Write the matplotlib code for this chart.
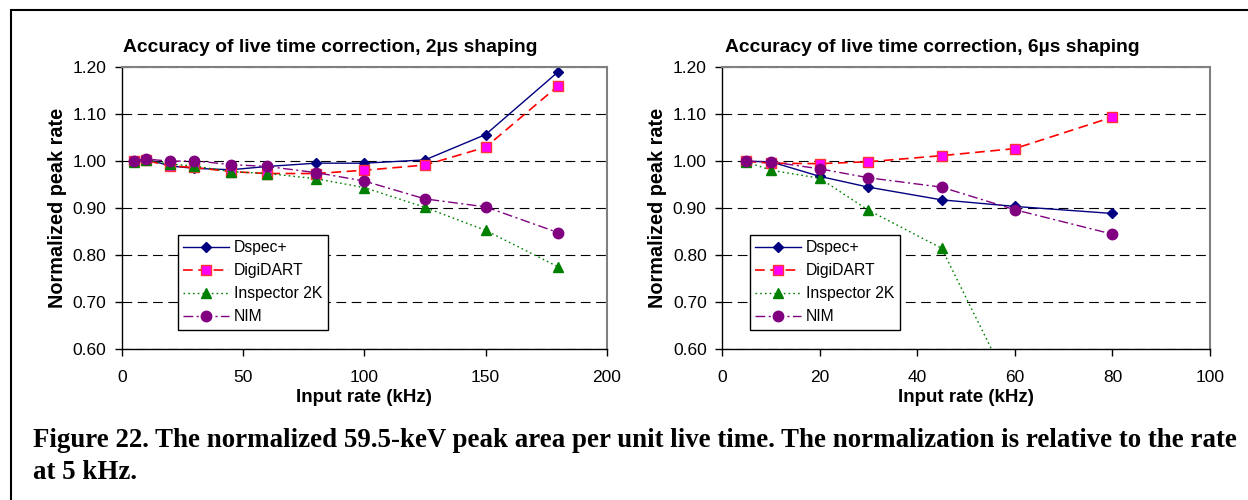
import matplotlib
matplotlib.use("Agg")
import matplotlib.pyplot as plt
from matplotlib.patches import Rectangle

plt.rcParams['font.family'] = ['Liberation Sans', 'DejaVu Sans']
plt.rcParams['lines.scale_dashes'] = False

# Data
rate_2us = [5, 10, 20, 30, 45, 60, 80, 100, 125, 150, 180]
dspec_2us = [1.000, 1.005, 0.990, 0.985, 0.982, 0.989, 0.996, 0.996, 1.003, 1.057, 1.191]
digidart_2us = [1.000, 1.002, 0.990, 0.987, 0.978, 0.974, 0.974, 0.981, 0.992, 1.030, 1.161]
inspector_2us = [0.999, 1.002, 0.994, 0.990, 0.978, 0.974, 0.963, 0.944, 0.902, 0.853, 0.775]
nim_2us = [1.000, 1.005, 1.000, 1.001, 0.993, 0.989, 0.976, 0.958, 0.920, 0.903, 0.848]

rate_6us = [5, 10, 20, 30, 45, 60, 80]
dspec_6us = [1.000, 0.999, 0.968, 0.945, 0.918, 0.904, 0.889]
digidart_6us = [1.000, 0.996, 0.995, 0.999, 1.012, 1.027, 1.094]
inspector_6us = [0.999, 0.981, 0.964, 0.896, 0.815, 0.500]
nim_6us = [1.000, 0.999, 0.984, 0.965, 0.945, 0.897, 0.845]

names = ['Dspec+', 'DigiDART', 'Inspector 2K', 'NIM']
y_ticks = [0.60, 0.70, 0.80, 0.90, 1.00, 1.10, 1.20]

# line styles per series
styles = [
    dict(color='#000080', linestyle='-', marker='D', markersize=5.5, mfc='#000080', mec='#000080', linewidth=1.0),
    dict(color='#FF0000', linestyle=(0, (7, 4)), marker='s', markersize=7, mfc='#FF00FF', mec='#FF3333', linewidth=1.2),
    dict(color='#008000', linestyle=(0, (1.2, 2.2)), marker='^', markersize=7.5, mfc='#008000', mec='#008000', linewidth=1.0),
    dict(color='#800080', linestyle=(0, (7, 2.5, 1.5, 2.5)), marker='o', markersize=7.5, mfc='#800080', mec='#800080', linewidth=1.0),
]

W, H = 1248, 500
fig = plt.figure(figsize=(W / 100, H / 100), dpi=100)

# page border
fig.patches.append(Rectangle((11 / W, -0.1), 1.2, 1.1 - 10 / H, transform=fig.transFigure,
                             fill=False, edgecolor='black', linewidth=1.5))


def setup_axes(ax, title, title_x, xmax, xstep):
    ax.set_xlim(0, xmax)
    ax.set_ylim(0.60, 1.20)
    ax.set_yticks(y_ticks)
    ax.set_yticklabels(['%.2f' % v for v in y_ticks])
    ax.set_xticks(range(0, xmax + 1, xstep))
    ax.tick_params(direction='out', length=5, width=1, labelsize=12.5, color='black')
    ax.tick_params(axis='x', pad=10)
    ax.tick_params(axis='y', pad=6)
    ax.grid(axis='y', color='black', linestyle=(0, (7, 4)), linewidth=0.8)
    ax.set_axisbelow(True)
    for s in ['top', 'right']:
        ax.spines[s].set_color('#808080')
        ax.spines[s].set_linewidth(1.5)
    for s in ['left', 'bottom']:
        ax.spines[s].set_color('black')
        ax.spines[s].set_linewidth(1.0)
    fig.text(title_x / W, 1 - 48 / H, title, fontsize=13.9, fontweight='bold', ha='center', va='center')
    ax.set_xlabel('Input rate (kHz)', fontsize=13.5, fontweight='bold', labelpad=3)
    ax.set_ylabel('Normalized peak rate', fontsize=14.3, fontweight='bold', labelpad=4)


ax1 = fig.add_axes([121.7 / W, 1 - 349.3 / H, (607 - 121.7) / W, (349.3 - 67.3) / H])
ax2 = fig.add_axes([722 / W, 1 - 349.3 / H, (1210 - 722) / W, (349.3 - 67.3) / H])

for vals, name, st in zip([dspec_2us, digidart_2us, inspector_2us, nim_2us], names, styles):
    ax1.plot(rate_2us[:len(vals)], vals, label=name, **st)
for vals, name, st in zip([dspec_6us, digidart_6us, inspector_6us, nim_6us], names, styles):
    ax2.plot(rate_6us[:len(vals)], vals, label=name, **st)

setup_axes(ax1, 'Accuracy of live time correction, 2\u00b5s shaping', 330, 200, 50)
setup_axes(ax2, 'Accuracy of live time correction, 6\u00b5s shaping', 932, 100, 20)

for ax, x0 in [(ax1, 178), (ax2, 750)]:
    pos = ax.get_position()
    leg = ax.legend(loc='upper left',
                    bbox_to_anchor=((x0 / W - pos.x0) / pos.width, (1 - 235 / H - pos.y0) / pos.height),
                    fontsize=11.3, frameon=True, fancybox=False, edgecolor='black', framealpha=1,
                    borderpad=0.35, labelspacing=0.5, handlelength=2.9, handletextpad=0.3,
                    borderaxespad=0)
    leg.get_frame().set_linewidth(1.0)

fig.text(33 / W, 1 - 447 / H,
         'Figure 22. The normalized 59.5-keV peak area per unit live time. The normalization is relative to the rate',
         fontsize=19.4, fontweight='bold', family='Liberation Serif', va='baseline', ha='left')
fig.text(33 / W, 1 - 479 / H, 'at 5 kHz.',
         fontsize=19.4, fontweight='bold', family='Liberation Serif', va='baseline', ha='left')

fig.savefig('out.png', dpi=100)
